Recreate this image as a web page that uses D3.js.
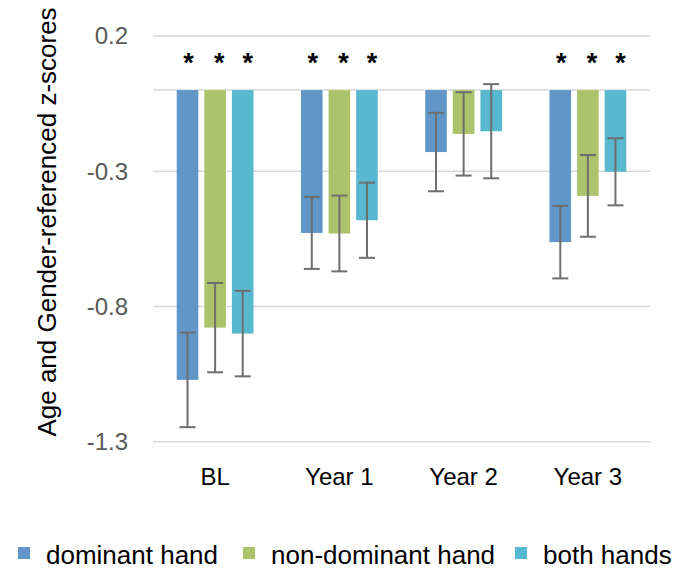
<!DOCTYPE html>
<html>
<head>
<meta charset="utf-8">
<script src="https://cdn.jsdelivr.net/npm/d3@7"></script>
<style>
  html, body { margin: 0; padding: 0; background: #fff; }
  svg { display: block; font-family: "Liberation Sans", Arial, sans-serif; }
</style>
</head>
<body>
<svg id="chart" width="683" height="576"></svg>
<script>
// Time points on the x axis
const categories = ["BL", "Year 1", "Year 2", "Year 3"];

// Series names (legend order)
const seriesNames = ["dominant hand", "non-dominant hand", "both hands"];

// Mean z-scores per series, one value per time point
const dominantHand    = [-1.071, -0.528, -0.229, -0.562];
const nonDominantHand = [-0.878, -0.530, -0.162, -0.391];
const bothHands       = [-0.900, -0.481, -0.152, -0.302];

// Error bar half-widths per series
const dominantErr     = [0.175, 0.133, 0.145, 0.134];
const nonDominantErr  = [0.165, 0.140, 0.154, 0.151];
const bothErr         = [0.158, 0.139, 0.174, 0.124];

// Significance markers (1 = draw an asterisk above the bar)
const dominantSig     = [1, 1, 0, 1];
const nonDominantSig  = [1, 1, 0, 1];
const bothSig         = [1, 1, 0, 1];

// Y axis tick labels
const yTicks = [0.2, -0.3, -0.8, -1.3];

const colors = ["#6096c8", "#abc46b", "#58b8d0"];

const seriesValues = [dominantHand, nonDominantHand, bothHands];
const seriesErrors = [dominantErr, nonDominantErr, bothErr];
const seriesSig = [dominantSig, nonDominantSig, bothSig];

const svg = d3.select("#chart");

const plot = { left: 153, right: 650, top: 36, bottom: 441.8 };

const y = d3.scaleLinear().domain([-1.3, 0.2]).range([plot.bottom, plot.top]);
const x = d3.scaleBand().domain(categories).range([plot.left, plot.right]);
const xs = d3.scaleBand().domain(seriesNames).range([-38.4, 38.4]).paddingInner(0.217);

// Gridlines at the labelled ticks
svg.append("g").selectAll("line")
  .data(yTicks)
  .join("line")
  .attr("x1", plot.left).attr("x2", plot.right)
  .attr("y1", d => y(d)).attr("y2", d => y(d))
  .attr("stroke", "#d9d9d9").attr("stroke-width", 1.5);

// Horizontal axis line at zero
svg.append("line")
  .attr("x1", plot.left).attr("x2", plot.right)
  .attr("y1", y(0)).attr("y2", y(0))
  .attr("stroke", "#d9d9d9").attr("stroke-width", 1.5);

// Y tick labels (plain hyphen for negatives)
svg.append("g").selectAll("text")
  .data(yTicks)
  .join("text")
  .attr("x", 128).attr("y", d => y(d))
  .attr("dy", "0.35em")
  .attr("text-anchor", "end")
  .attr("font-size", 24)
  .attr("fill", "#595959")
  .text(d => d.toFixed(1));

// Y axis title
svg.append("text")
  .attr("transform", "translate(56,222) rotate(-90)")
  .attr("text-anchor", "middle")
  .attr("font-size", 26)
  .attr("fill", "#000")
  .text("Age and Gender-referenced z-scores");

// Bars, error bars and asterisks
const groups = svg.append("g").selectAll("g")
  .data(categories)
  .join("g")
  .attr("transform", d => `translate(${x(d) + x.bandwidth() / 2},0)`);

seriesNames.forEach((name, si) => {
  const bx = xs(name);
  const bw = xs.bandwidth();
  const cx = bx + bw / 2;

  groups.append("rect")
    .attr("x", bx)
    .attr("width", bw)
    .attr("y", (d, i) => Math.min(y(0), y(seriesValues[si][i])))
    .attr("height", (d, i) => Math.abs(y(seriesValues[si][i]) - y(0)))
    .attr("fill", colors[si]);

  const eg = groups.append("g")
    .attr("stroke", "#6e6e6e").attr("stroke-width", 2);
  eg.append("line")
    .attr("x1", cx).attr("x2", cx)
    .attr("y1", (d, i) => y(seriesValues[si][i] + seriesErrors[si][i]))
    .attr("y2", (d, i) => y(seriesValues[si][i] - seriesErrors[si][i]));
  eg.append("line")
    .attr("x1", cx - 8).attr("x2", cx + 8)
    .attr("y1", (d, i) => y(seriesValues[si][i] + seriesErrors[si][i]))
    .attr("y2", (d, i) => y(seriesValues[si][i] + seriesErrors[si][i]));
  eg.append("line")
    .attr("x1", cx - 8).attr("x2", cx + 8)
    .attr("y1", (d, i) => y(seriesValues[si][i] - seriesErrors[si][i]))
    .attr("y2", (d, i) => y(seriesValues[si][i] - seriesErrors[si][i]));

  groups.filter((d, i) => seriesSig[si][i] === 1)
    .append("text")
    .attr("x", cx + [1, 4, 5][si])
    .attr("y", 72)
    .attr("text-anchor", "middle")
    .attr("font-size", 27)
    .attr("font-weight", "bold")
    .attr("fill", "#000")
    .text("*");
});

// Category labels
svg.append("g").selectAll("text")
  .data(categories)
  .join("text")
  .attr("x", d => x(d) + x.bandwidth() / 2)
  .attr("y", 485)
  .attr("text-anchor", "middle")
  .attr("font-size", 24)
  .attr("fill", "#000")
  .text(d => d);

// Legend
const legendX = [18, 243, 515];
const legend = svg.append("g").selectAll("g")
  .data(seriesNames)
  .join("g")
  .attr("transform", (d, i) => `translate(${legendX[i]},0)`);
legend.append("rect")
  .attr("x", 0).attr("y", 547)
  .attr("width", 12).attr("height", 12)
  .attr("fill", (d, i) => colors[i]);
legend.append("text")
  .attr("x", 28).attr("y", 564)
  .attr("font-size", 26)
  .attr("fill", "#000")
  .text(d => d);
</script>
</body>
</html>
